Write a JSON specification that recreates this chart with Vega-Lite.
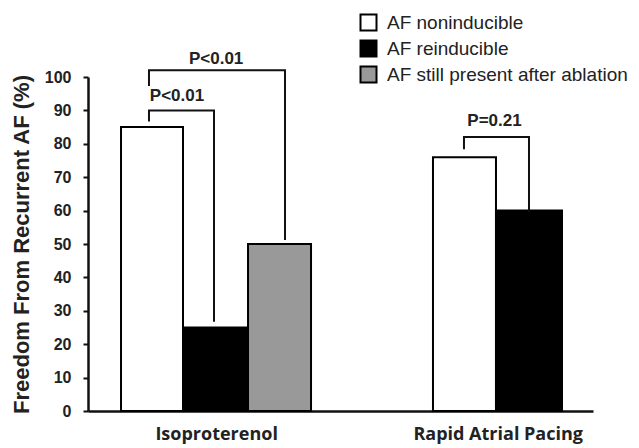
{
  "$schema": "https://vega.github.io/schema/vega-lite/v6.json",
  "width": 505,
  "height": 334,
  "autosize": {"type": "none"},
  "padding": {"left": 88, "top": 77, "right": 46, "bottom": 37},
  "background": "white",
  "config": {"view": {"stroke": null}, "axis": {"labelOverlap": false}},
  "datasets": {
    "bars": [
      {"group": "Isoproterenol", "status": "AF noninducible", "x0": 0.523, "x1": 1.505, "value": 85},
      {"group": "Isoproterenol", "status": "AF reinducible", "x0": 1.505, "x1": 2.535, "value": 25},
      {"group": "Isoproterenol", "status": "AF still present after ablation", "x0": 2.535, "x1": 3.533, "value": 50},
      {"group": "Rapid Atrial Pacing", "status": "AF noninducible", "x0": 5.465, "x1": 6.463, "value": 76},
      {"group": "Rapid Atrial Pacing", "status": "AF reinducible", "x0": 6.463, "x1": 7.509, "value": 60}
    ],
    "brackets": [
      {"id": "inner", "ord": 1, "x": 0.966, "y": 87},
      {"id": "inner", "ord": 2, "x": 0.966, "y": 90},
      {"id": "inner", "ord": 3, "x": 1.996, "y": 90},
      {"id": "inner", "ord": 4, "x": 1.996, "y": 27},
      {"id": "outer", "ord": 1, "x": 0.966, "y": 97.6},
      {"id": "outer", "ord": 2, "x": 0.966, "y": 102},
      {"id": "outer", "ord": 3, "x": 3.121, "y": 102},
      {"id": "outer", "ord": 4, "x": 3.121, "y": 51.5},
      {"id": "rapid", "ord": 1, "x": 5.956, "y": 78.7},
      {"id": "rapid", "ord": 2, "x": 5.956, "y": 82},
      {"id": "rapid", "ord": 3, "x": 6.986, "y": 82},
      {"id": "rapid", "ord": 4, "x": 6.986, "y": 60}
    ],
    "labels": [
      {"text": "P<0.01", "x": 1.41, "y": 94.3},
      {"text": "P<0.01", "x": 2.03, "y": 105.4},
      {"text": "P=0.21", "x": 6.44, "y": 86.7}
    ]
  },
  "encoding": {
    "x": {
      "type": "quantitative",
      "scale": {"domain": [0, 8], "nice": false, "zero": false},
      "axis": {
        "title": null, "grid": false, "ticks": false,
        "values": [2.03, 6.49],
        "labelExpr": "datum.value < 4 ? 'Isoproterenol' : 'Rapid Atrial Pacing'",
        "labelFont": "Open Sans", "labelFontWeight": "bold", "labelFontSize": 18,
        "labelColor": "#222", "labelPadding": 14,
        "domainColor": "#111", "domainWidth": 2.5
      }
    },
    "y": {
      "type": "quantitative",
      "scale": {"domain": [0, 100], "nice": false},
      "axis": {
        "title": "Freedom From Recurrent AF (%)",
        "titleFont": "Liberation Sans", "titleFontSize": 22, "titleFontWeight": "bold",
        "titleColor": "#222", "titlePadding": 11,
        "grid": false, "tickCount": 11, "tickMinStep": 10,
        "labelOverlap": false,
        "tickSize": 5, "tickWidth": 2, "tickColor": "#111",
        "domainColor": "#111", "domainWidth": 2.5,
        "labelFont": "Liberation Sans", "labelFontWeight": "bold", "labelFontSize": 16,
        "labelColor": "#222", "labelPadding": 12
      }
    }
  },
  "layer": [
    {
      "data": {"name": "bars"},
      "mark": {"type": "bar", "stroke": "black", "strokeWidth": 2},
      "encoding": {
        "x": {"field": "x0"},
        "x2": {"field": "x1"},
        "y": {"field": "value"},
        "y2": {"datum": 0},
        "fill": {
          "field": "status", "type": "nominal",
          "scale": {
            "domain": ["AF noninducible", "AF reinducible", "AF still present after ablation"],
            "range": ["#ffffff", "#000000", "#999999"]
          },
          "legend": {
            "title": null, "orient": "none", "legendX": 271, "legendY": -64,
            "symbolType": "square", "symbolSize": 256,
            "symbolStrokeColor": "black", "symbolStrokeWidth": 2,
            "labelFont": "Liberation Sans", "labelFontSize": 19, "labelColor": "#222",
            "labelOffset": 9, "rowPadding": 1, "labelLimit": 400
          }
        }
      }
    },
    {
      "data": {"name": "brackets"},
      "mark": {"type": "line", "stroke": "#111", "strokeWidth": 2, "strokeCap": "square"},
      "encoding": {
        "x": {"field": "x"},
        "y": {"field": "y"},
        "detail": {"field": "id"},
        "order": {"field": "ord"}
      }
    },
    {
      "data": {"name": "labels"},
      "mark": {"type": "text", "font": "Liberation Sans", "fontWeight": "bold", "fontSize": 17, "color": "#222", "baseline": "middle", "align": "center"},
      "encoding": {
        "x": {"field": "x"},
        "y": {"field": "y"},
        "text": {"field": "text"}
      }
    }
  ]
}
